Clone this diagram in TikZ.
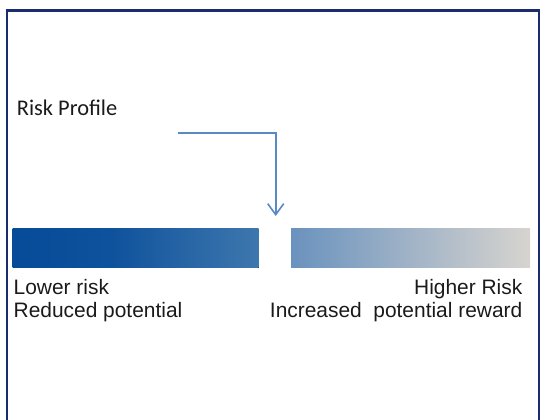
\documentclass[tikz,border=0pt]{standalone}
\usepackage{fontspec}
\setmainfont{Liberation Sans}
\newfontfamily\calfont{Carlito}
\usetikzlibrary{arrows.meta}
\definecolor{framec}{HTML}{1B2C6E}
\definecolor{arrowc}{HTML}{5A8AC6}
\definecolor{gA}{HTML}{064B99}
\definecolor{gB}{HTML}{3E77AE}
\definecolor{gC}{HTML}{6A92BE}
\definecolor{gD}{HTML}{D7D4CF}
\definecolor{txt}{HTML}{1A1A1A}
\tikzset{
  lbl/.style={inner sep=0pt, text=txt, font=\fontsize{21}{24}\selectfont},
  arr/.style={draw=arrowc, line width=1.8bp, -{Straight Barb[length=11bp,width=16bp,line width=1.6bp]}},
}
\begin{document}
\begin{tikzpicture}[x=1bp,y=-1bp]
\useasboundingbox (0,0) rectangle (547,419);
% frame
\draw[framec, line width=2.6bp] (7,430) -- (7,10.5) -- (539,10.5) -- (539,430);
% bars
\fill[left color=gA, right color=gA!85!gB] (12.5,228.5) rectangle (110,267.5);
\fill[left color=gA!85!gB, right color=gB] (109.5,228.5) rectangle (258.5,267.5);
\fill[left color=gC, right color=gD] (291,228.5) rectangle (530,267.5);
\node[lbl, anchor=base west] (lo) at (13.5,294) {Lower risk};
\node[lbl, anchor=base west] (re) at (13.5,317.5) {Reduced potential};
\node[lbl, anchor=base east] (hi) at (522.5,294) {Higher Risk};
\node[lbl, anchor=base east] (in) at (522.5,317.5) {Increased\ \ potential reward};
% title
\node[inner sep=0pt, anchor=base west, text=txt, font=\calfont\fontsize{22.5}{24}\selectfont] (rp) at (16.7,115) {Risk Profile};
\coordinate (s) at (178,132.7);
\coordinate (c) at (275.7,132.7);
\coordinate (e) at (275.7,216);
\draw[arr] (s) -- (c) -- (e);
\end{tikzpicture}
\end{document}
